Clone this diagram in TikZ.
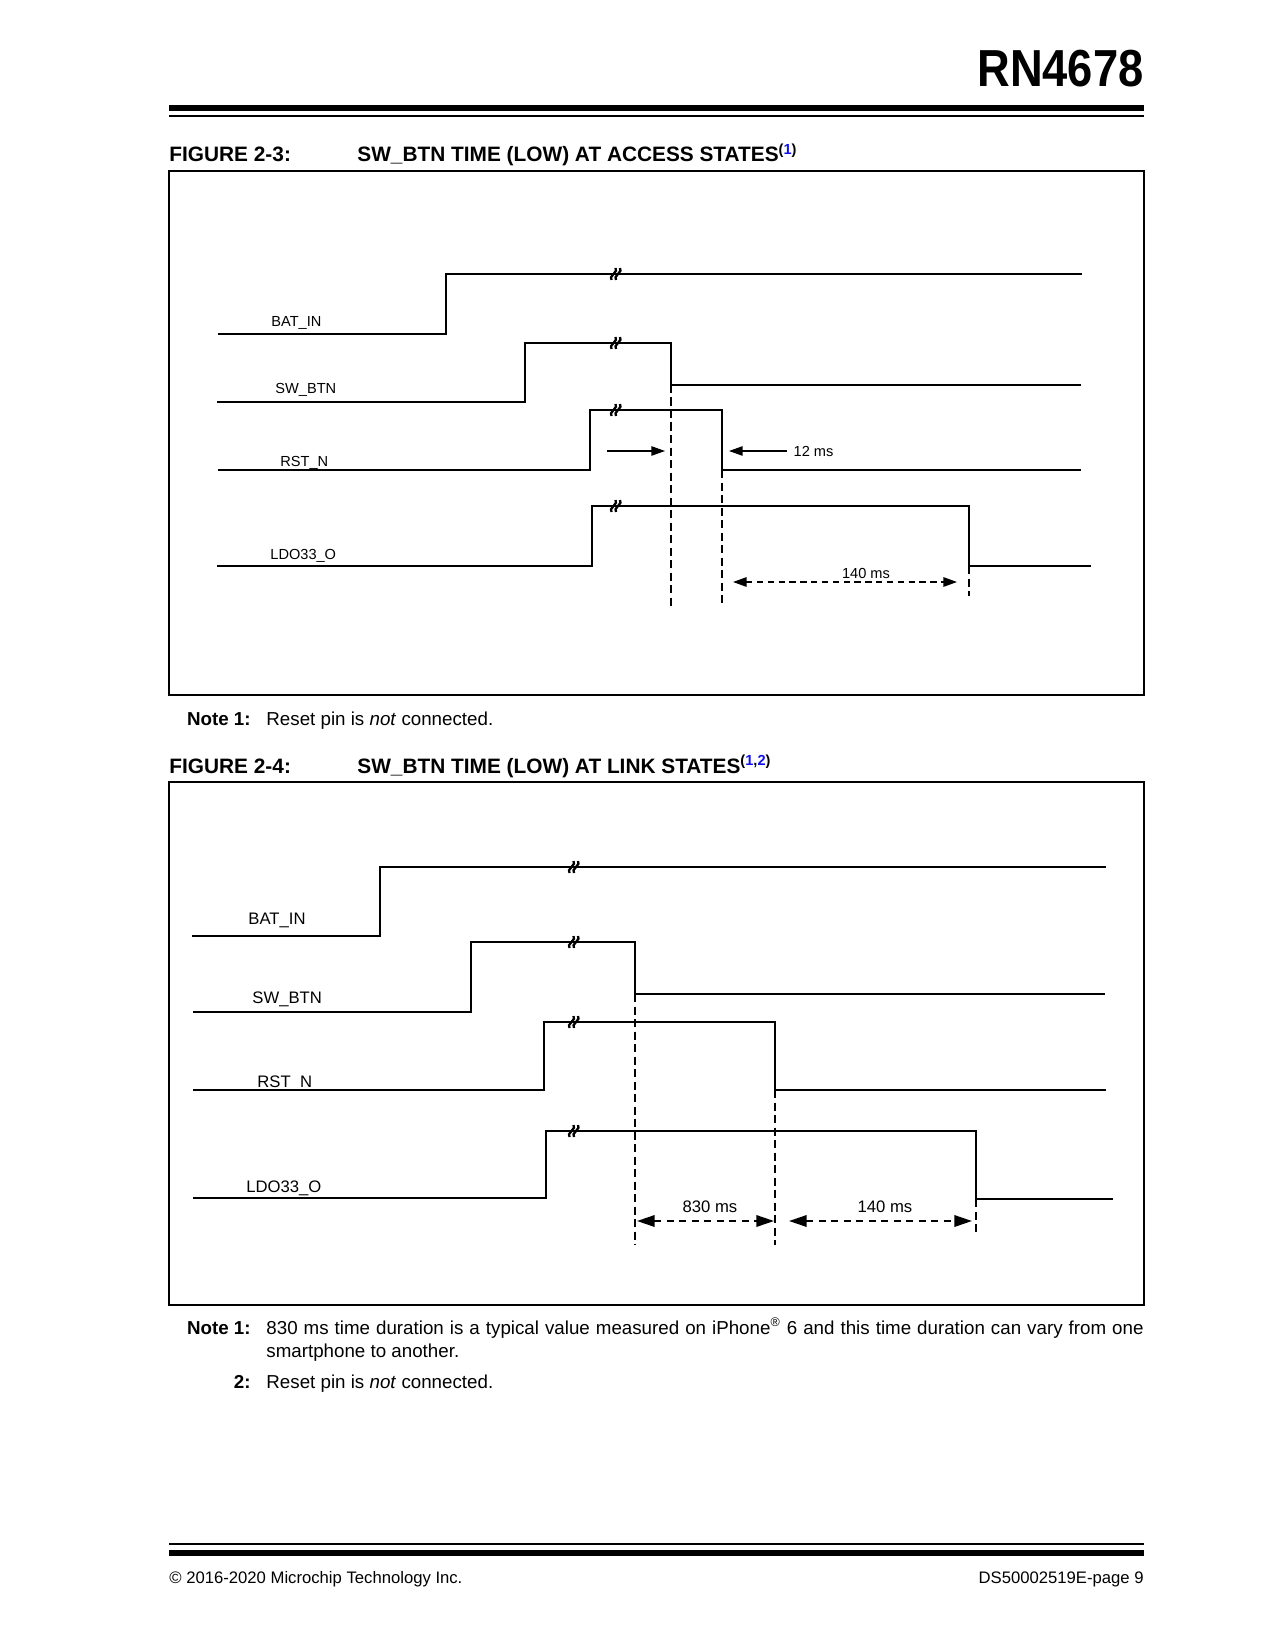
\documentclass[tikz,border=0pt]{standalone}
\usepackage{fontspec}
\setmainfont{Liberation Sans}
\usetikzlibrary{arrows.meta, positioning, calc}
\definecolor{Ink}{HTML}{000000}
\definecolor{LinkBlue}{HTML}{1010F0}
\tikzset{
  wave/.style={draw=Ink, line width=0.55pt, line join=miter},
  boldwave/.style={draw=Ink, line width=1.25pt, line join=miter, line cap=rect},
  guideline/.style={draw=Ink, line width=0.6pt, dash pattern=on 4pt off 2pt},
  dimarrow/.style={draw=Ink, line width=1pt, dash pattern=on 3.5pt off 2.5pt, {Triangle[length=8.5pt,width=5.5pt]}-{Triangle[length=8.5pt,width=5.5pt]}},
  smalldim/.style={draw=Ink, line width=0.8pt, dash pattern=on 3pt off 2.2pt, {Triangle[length=6.5pt,width=4.5pt]}-{Triangle[length=6.5pt,width=4.5pt]}},
  pointer/.style={draw=Ink, line width=0.55pt, -{Triangle[length=6.5pt,width=4.5pt]}},
  figframe/.style={draw=Ink, line width=0.6pt},
  siglabel/.style={anchor=base west, inner sep=0pt, font=\fontsize{7}{8}\selectfont},
  bigsiglabel/.style={anchor=base west, inner sep=0pt, font=\fontsize{8}{9.5}\selectfont},
  heading/.style={anchor=base west, inner sep=0pt, font=\bfseries\fontsize{10}{12}\selectfont},
  notelabel/.style={anchor=base east, inner sep=0pt, font=\bfseries\fontsize{9}{11}\selectfont},
  notebody/.style={anchor=base west, inner sep=0pt, font=\fontsize{9}{11}\selectfont},
  footer/.style={inner sep=0pt, font=\fontsize{8}{10}\selectfont}
}
\newcommand{\breakmark}[1]{%
  \draw[line width=1.1pt] ($(#1)+(-4.5,6)$) .. controls +(-4,-3) and +(4,3) .. ($(#1)+(-0.5,-6)$);
  \draw[line width=1.1pt] ($(#1)+(0,6)$) .. controls +(-4,-3) and +(4,3) .. ($(#1)+(4,-6)$);}

\begin{document}
\begin{tikzpicture}[x=0.48pt, y=-0.48pt]
\useasboundingbox (0,0) rectangle (1275,1650);

% page head
\node[anchor=base east, inner sep=0pt, font=\bfseries\fontsize{25}{30}\selectfont] (partno) at (1144,87) {\scalebox{0.87}[1]{RN4678}};
\fill[Ink] (169,105) rectangle (1144,111);
\fill[Ink] (169,115) rectangle (1144,117);

% figure 2-3
\node[heading] (fig3num) at (169,162) {FIGURE 2-3:};
\node[heading] (fig3title) at (357,162) {SW\_BTN TIME (LOW) AT ACCESS STATES\textsuperscript{(\textcolor{LinkBlue}{1})}};
\draw[figframe] (169,171) rectangle (1144,695);

\draw[wave] (218,334) -- (446,334);
\draw[boldwave] (446,334) -- (446,274) -- (1081,274);
\draw[boldwave] (218,402) -- (525,402);
\draw[wave] (525,402) -- (525,343) -- (671,343) -- (671,385) -- (1081,385);
\draw[wave] (218,470) -- (590,470) -- (590,410) -- (722,410) -- (722,470) -- (1081,470);
\draw[boldwave] (218,566) -- (592,566);
\draw[wave] (592,566) -- (592,506) -- (969,506) -- (969,566);
\draw[boldwave] (969,566) -- (1090,566);
\breakmark{616,274}
\breakmark{616,343}
\breakmark{616,410}
\breakmark{616,506}

\node[siglabel] (batA) at (271,327) {BAT\_IN};
\node[siglabel] (swA) at (275,394) {SW\_BTN};
\node[siglabel] (rstA) at (280,467) {RST\_N};
\node[siglabel] (ldoA) at (270,559) {LDO33\_O};

\coordinate (swfallA) at (671,385);
\coordinate (rstfallA) at (722,470);
\coordinate (ldofallA) at (969,566);
\draw[guideline] (swfallA) -- (671,607);
\draw[guideline] (rstfallA) -- (722,607);
\draw[guideline] (ldofallA) -- (969,596);

\coordinate (ptrA) at (607,451);
\coordinate (ptrB) at (787,451);
\draw[pointer] (ptrA) -- (665,451);
\draw[pointer] (ptrB) -- (729,451);
\node[siglabel, anchor=west, right=3pt of ptrB] (ms12) {12 ms};
\draw[smalldim] (733,582) -- (957,582);
\node[siglabel, anchor=base] (ms140A) at (866,578) {140 ms};

\node[notelabel] (note3) at (251,725) {Note 1:};
\node[notebody, base right=7.2pt of note3] (note3txt) {Reset pin is \textit{not} connected.};

% figure 2-4
\node[heading] (fig4num) at (169,773) {FIGURE 2-4:};
\node[heading] (fig4title) at (357,773) {SW\_BTN TIME (LOW) AT LINK STATES\textsuperscript{(\textcolor{LinkBlue}{1},\textcolor{LinkBlue}{2})}};
\draw[figframe] (169,782) rectangle (1144,1305);

\draw[boldwave] (193,936) -- (380,936) -- (380,867) -- (1105,867);
\draw[wave] (193,1012) -- (471,1012);
\draw[boldwave] (471,1012) -- (471,942);
\draw[wave] (471,942) -- (635,942) -- (635,994) -- (1105,994);
\draw[wave] (193,1090) -- (544,1090);
\draw[boldwave] (544,1090) -- (544,1022);
\draw[wave] (544,1022) -- (775,1022);
\draw[boldwave] (775,1022) -- (775,1090) -- (1105,1090);
\draw[wave] (193,1198) -- (546,1198);
\draw[boldwave] (546,1198) -- (546,1131);
\draw[wave] (546,1131) -- (976,1131);
\draw[boldwave] (976,1131) -- (976,1199);
\draw[wave] (976,1199) -- (1113,1199);
\breakmark{574,867}
\breakmark{574,942}
\breakmark{574,1022}
\breakmark{574,1131}

\node[bigsiglabel] (batB) at (248,924) {BAT\_IN};
\node[bigsiglabel] (swB) at (252,1003) {SW\_BTN};
\node[bigsiglabel] (rstB) at (257,1087) {RST\_N};
\node[bigsiglabel] (ldoB) at (246,1192) {LDO33\_O};

\coordinate (swfallB) at (635,994);
\coordinate (rstfallB) at (775,1090);
\coordinate (ldofallB) at (976,1199);
\draw[guideline] (swfallB) -- (635,1245);
\draw[guideline] (rstfallB) -- (775,1245);
\draw[guideline] (ldofallB) -- (976,1233);
\draw[dimarrow] (637,1221) -- (774,1221);
\draw[dimarrow] (789,1221) -- (972,1221);
\node[bigsiglabel, anchor=base] (ms830) at (710,1212) {830 ms};
\node[bigsiglabel, anchor=base] (ms140B) at (885,1212) {140 ms};

\node[notelabel] (note4a) at (251,1334) {Note 1:};
\node[notebody] (note4atxt) at (266,1334) {\makebox[421pt][s]{830 ms time duration is a typical value measured on iPhone\textsuperscript{®} 6 and this time duration can vary from one}};
\node[notebody] (note4atxt2) at (266,1357) {smartphone to another.};
\node[notelabel] (note4b) at (251,1388) {2:};
\node[notebody] (note4btxt) at (266,1388) {Reset pin is \textit{not} connected.};

% page foot
\fill[Ink] (169,1543) rectangle (1144,1545);
\fill[Ink] (169,1550) rectangle (1144,1556);
\node[footer, anchor=base west] (copy) at (169,1583) {© 2016-2020 Microchip Technology Inc.};
\node[footer, anchor=base east] (docno) at (1144,1583) {DS50002519E-page 9};
\end{tikzpicture}
\end{document}
